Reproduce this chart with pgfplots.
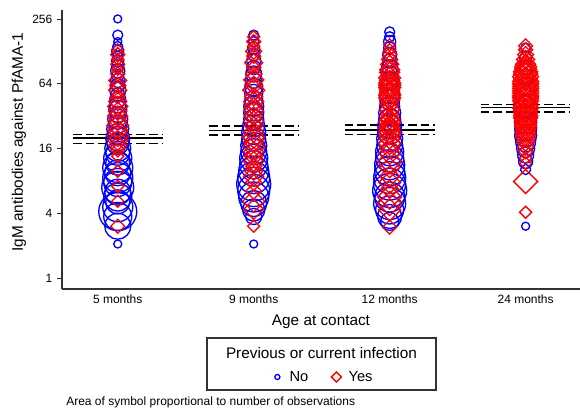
\documentclass[border=0pt]{standalone}
\usepackage{fontspec}
\setmainfont{Liberation Sans}
\usepackage{pgfplots}
\usepackage{pgfplotstable}
\pgfplotsset{compat=1.18}
\pgfdeclareplotmark{sqdiamond}{%
  \pgfpathmoveto{\pgfqpoint{0pt}{\pgfplotmarksize}}%
  \pgfpathlineto{\pgfqpoint{\pgfplotmarksize}{0pt}}%
  \pgfpathlineto{\pgfqpoint{0pt}{-\pgfplotmarksize}}%
  \pgfpathlineto{\pgfqpoint{-\pgfplotmarksize}{0pt}}%
  \pgfpathclose
  \pgfusepathqstroke
}
\pgfplotsset{
  bubble/.style={only marks, scatter, forget plot, point meta=\thisrow{r},
    visualization depends on={0.75*\thisrow{r} \as \perpointmarksize},
    scatter/@pre marker code/.code={\def\markopts{mark size=\perpointmarksize}\expandafter\scope\expandafter[\markopts]},
    scatter/@post marker code/.code={\endscope}},
}
% blue = no infection (x, value, radius in px); red = yes (x, value, half-diagonal in px)
\pgfplotstableread{
x y r
0 256 4
0 181 5
0 157.6 4
0 142.0 5
0 128 6
0 115.4 5
0 104.0 6
0 93.7 6
0 84.4 7
0 76.1 6
0 68.6 7
0 61.8 7
0 55.7 8
0 50.2 7
0 45.3 8
0 40.8 8
0 36.8 9
0 33.1 8
0 29.9 10
0 26.9 9
0 24.3 11
0 21.9 10
0 19.7 12
0 17.8 11
0 16 13
0 14.4 12
0 13.0 14
0 11.7 12
0 10.6 15
0 9.51 13
0 8.57 15
0 7.73 14
0 6.96 16
0 6.28 13
0 5.66 14
0 5.10 12
0 4.59 15
0 4.14 19
0 3.73 14
0 3.03 13
0 2.07 4
}\bluefive
\pgfplotstableread{
x y r
1 181 5
1 157.6 5
1 137.2 6
1 119.4 6
1 104.0 7
1 90.5 7
1 78.8 8
1 68.6 8
1 59.7 9
1 52.0 9
1 45.3 9
1 39.4 10
1 34.3 10
1 29.9 10
1 26.0 11
1 22.6 12
1 19.7 12
1 17.1 13
1 14.9 13
1 13.0 14
1 11.3 14
1 9.85 15
1 8.57 16
1 7.46 17
1 6.50 16
1 5.66 15
1 4.92 13
1 4.29 11
1 3.73 8
1 2.07 4
}\bluenine
\pgfplotstableread{
x y r
2 194.0 5
2 174.8 5
2 157.6 6
2 137.2 6
2 119.4 7
2 104.0 7
2 90.5 8
2 78.8 8
2 68.6 9
2 59.7 9
2 52.0 10
2 45.3 10
2 39.4 10
2 34.3 11
2 29.9 11
2 26.0 12
2 22.6 12
2 19.7 13
2 17.1 13
2 14.9 14
2 13.0 14
2 11.3 15
2 9.85 15
2 8.57 16
2 7.46 16
2 6.50 17
2 5.66 15
2 4.92 16
2 4.29 14
2 3.73 12
2 3.36 9
}\bluetwelve
\pgfplotstableread{
x y r
3 137.2 5
3 111.4 6
3 90.5 7
3 73.5 8
3 59.7 9
3 48.5 10
3 39.4 11
3 32 11
3 27.9 11
3 24.3 11
3 21.1 11
3 18.4 10
3 16 9
3 13.9 8
3 12.1 7
3 10.2 5
3 3.03 4
}\bluetwentyfour
\pgfplotstableread{
x y r
0 132.5 6
0 119.4 7
0 107.6 6
0 97.0 7
0 87.4 6
0 78.8 7
0 68.6 9
0 61.8 8
0 55.7 9
0 48.5 7
0 43.7 9
0 39.4 10
0 35.5 9
0 32 10
0 28.8 9
0 26.0 11
0 23.4 10
0 21.1 11
0 19.0 10
0 17.1 9
0 15.5 7
0 13.5 6
0 9.85 6
0 7.11 6
0 5.17 6
0 3.03 7
}\redfive
\pgfplotstableread{
x y r
1 174.8 6
1 157.6 7
1 142.0 6
1 128 8
1 115.4 7
1 100.4 9
1 90.5 7
1 78.8 8
1 69.5 10
1 61.8 9
1 55.7 11
1 48.5 9
1 43.7 10
1 39.4 9
1 35.5 10
1 32 9
1 28.8 10
1 26.0 9
1 22.6 10
1 20.4 11
1 18.4 10
1 16.6 11
1 14.9 10
1 13.5 9
1 12.1 10
1 10.9 8
1 9.85 9
1 8.82 10
1 7.73 8
1 6.41 8
1 5.17 11
1 4.35 10
1 3.03 6
}\rednine
\pgfplotstableread{
x y r
2 147.0 6
2 132.5 6
2 119.4 7
2 107.6 8
2 97.0 9
2 86.2 10
2 81.6 10
2 76.1 9
2 72.5 11
2 68.6 10
2 64.9 11
2 61.8 11
2 58.9 11
2 55.7 10
2 52.7 10
2 50.2 11
2 47.5 11
2 45.3 10
2 40.8 9
2 36.8 10
2 33.1 9
2 29.9 10
2 28.2 11
2 26.9 9
2 25.6 10
2 24.3 10
2 22.9 11
2 21.9 11
2 19.7 10
2 17.8 11
2 16 10
2 14.4 11
2 12.1 12
2 10.6 10
2 8.82 10
2 7.73 11
2 6.68 9
2 5.66 12
2 4.92 12
2 4.29 11
2 2.97 7
}\redtwelve
\pgfplotstableread{
x y r
3 144.0 7
3 132.5 7
3 119.4 8
3 107.6 9
3 97.0 10
3 91.8 11
3 87.4 11
3 82.7 12
3 78.8 12
3 74.5 13
3 71.0 12
3 67.2 13
3 64 13
3 60.5 13
3 57.7 13
3 54.6 13
3 52.0 13
3 49.2 13
3 46.9 13
3 44.3 13
3 42.2 12
3 39.9 12
3 38.1 13
3 36.0 12
3 34.3 12
3 32.4 12
3 30.9 12
3 29.2 11
3 27.9 11
3 26.4 11
3 25.1 11
3 23.8 10
3 22.6 10
3 21.4 10
3 20.4 10
3 18.4 9
3 16.6 8
3 14.9 7
3 13.0 6
3 11.7 6
3 7.89 12
3 4.08 6
}\redtwentyfour
\begin{document}
\begin{tikzpicture}
\useasboundingbox (-46.5pt,-93.75pt) rectangle (388.5pt,216.75pt);
\begin{axis}[
  at={(0pt,0pt)}, anchor=south west,
  scale only axis, width=388.5pt, height=209.25pt,
  xmin=-0.41, xmax=3.4,
  ymode=log, log basis y=2, ymin=0.79, ymax=310,
  axis x line=bottom, axis y line=left,
  axis line style={-, draw=black!80, line width=0.8pt},
  xtick={0,1,2,3},
  xticklabels={5 months,9 months,12 months,24 months},
  xtick style={draw=none},
  ytick={1,4,16,64,256},
  yticklabels={1,4,16,64,256},
  minor ytick={},
  tick align=outside,
  major tick length=3.75pt,
  ytick style={draw=black!80, line width=0.6pt},
  ticklabel style={font=\fontsize{9}{10}\selectfont},
  xticklabel style={yshift=3pt},
  xlabel={Age at contact},
  xlabel style={at={(axis description cs:0.5,-0.118)}, anchor=center, font=\fontsize{11.5}{13}\selectfont},
  ylabel={IgM antibodies against PfAMA-1},
  ylabel style={at={(axis description cs:-0.083,0.527)}, anchor=center, font=\fontsize{11.5}{13}\selectfont},
  clip=false,
  legend columns=2,
  legend style={draw=none, fill=none, at={(axis description cs:0.501,-0.3154)}, anchor=center,
    font=\fontsize{11}{13}\selectfont, /tikz/every even column/.append style={column sep=12pt}},
  legend image code/.code={\path[draw=none] (0cm,0cm) (0.5cm,0cm); \draw[#1] plot coordinates {(0.25cm,0cm)};},
]
\addplot[bubble, mark=o, draw=blue, line width=1pt] table[x=x,y=y] {\bluefive};
\addplot[bubble, mark=o, draw=blue, line width=1pt] table[x=x,y=y] {\bluenine};
\addplot[bubble, mark=o, draw=blue, line width=1pt] table[x=x,y=y] {\bluetwelve};
\addplot[bubble, mark=o, draw=blue, line width=1pt] table[x=x,y=y] {\bluetwentyfour};
\addplot[bubble, mark=sqdiamond, draw=red, line width=1pt] table[x=x,y=y] {\redfive};
\addplot[bubble, mark=sqdiamond, draw=red, line width=1pt] table[x=x,y=y] {\rednine};
\addplot[bubble, mark=sqdiamond, draw=red, line width=1pt] table[x=x,y=y] {\redtwelve};
\addplot[bubble, mark=sqdiamond, draw=red, line width=1pt] table[x=x,y=y] {\redtwentyfour};
% geometric means (solid) and 95% CI (dashed)
\addplot[forget plot, black, line width=1.2pt] coordinates {(-0.33,20.1) (0.33,20.1)};
\addplot[forget plot, black, line width=1pt, dash pattern=on 6.5pt off 3pt] coordinates {(-0.33,21.6) (0.33,21.6)};
\addplot[forget plot, black, line width=1pt, dash pattern=on 6.5pt off 3pt] coordinates {(-0.33,17.8) (0.33,17.8)};
\addplot[forget plot, black, line width=1.2pt] coordinates {(0.67,23.6) (1.33,23.6)};
\addplot[forget plot, black, line width=1pt, dash pattern=on 6.5pt off 3pt] coordinates {(0.67,25.8) (1.33,25.8)};
\addplot[forget plot, black, line width=1pt, dash pattern=on 6.5pt off 3pt] coordinates {(0.67,21.4) (1.33,21.4)};
\addplot[forget plot, black, line width=1.2pt] coordinates {(1.67,23.9) (2.33,23.9)};
\addplot[forget plot, black, line width=1pt, dash pattern=on 6.5pt off 3pt] coordinates {(1.67,26.5) (2.33,26.5)};
\addplot[forget plot, black, line width=1pt, dash pattern=on 6.5pt off 3pt] coordinates {(1.67,21.6) (2.33,21.6)};
\addplot[forget plot, black, line width=1.2pt] coordinates {(2.67,38.3) (3.33,38.3)};
\addplot[forget plot, black, line width=1pt, dash pattern=on 6.5pt off 3pt] coordinates {(2.67,41.1) (3.33,41.1)};
\addplot[forget plot, black, line width=1pt, dash pattern=on 6.5pt off 3pt] coordinates {(2.67,35.0) (3.33,35.0)};
\addlegendimage{only marks, mark=o, draw=blue, line width=1pt, mark size=1.9pt}
\addlegendentry{No}
\addlegendimage{only marks, mark=sqdiamond, draw=red, line width=1pt, mark size=3.75pt}
\addlegendentry{Yes}
\end{axis}
\draw[black!80, line width=0.8pt] (108.75pt,-36.75pt) rectangle (280.5pt,-75.75pt);
\node[font=\fontsize{11.5}{13}\selectfont] at (194.6pt,-48pt) {Previous or current infection};
\node[anchor=west, font=\fontsize{9}{10}\selectfont, inner sep=0pt] at (3pt,-84.75pt) {Area of symbol proportional to number of observations};
\end{tikzpicture}
\end{document}
